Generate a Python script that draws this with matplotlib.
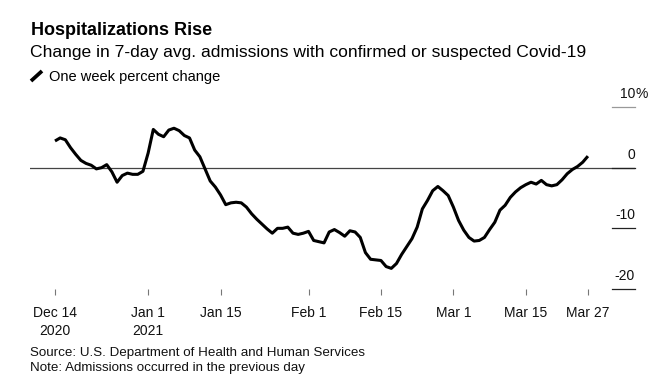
import numpy as np
import pandas as pd
import matplotlib
matplotlib.use("Agg")
import matplotlib.pyplot as plt
from matplotlib.lines import Line2D

plt.rcParams['font.family'] = ['Liberation Sans', 'DejaVu Sans']

# --- data: one week percent change, Dec 14 2020 .. Mar 27 2021 (daily) ---
start_date = "2020-12-14"
pct_change = [
    4.4, 4.9, 4.6, 3.3, 2.2, 1.2, 0.7, 0.4, -0.2, 0.0,
    0.5, -0.7, -2.4, -1.3, -0.9, -1.1, -1.1, -0.6, 2.4, 6.3,
    5.5, 5.1, 6.2, 6.5, 6.1, 5.3, 4.9, 2.9, 1.8, -0.2,
    -2.2, -3.2, -4.5, -6.1, -5.8, -5.7, -5.8, -6.5, -7.6, -8.5,
    -9.3, -10.1, -10.8, -10.0, -10.0, -9.8, -10.8, -11.0, -10.8, -10.5,
    -12.0, -12.2, -12.4, -10.6, -10.2, -10.7, -11.3, -10.4, -10.6, -11.5,
    -14.0, -15.1, -15.2, -15.3, -16.3, -16.6, -15.8, -14.3, -13.0, -11.7,
    -9.8, -6.8, -5.4, -3.8, -3.1, -3.8, -4.6, -6.5, -8.7, -10.3,
    -11.5, -12.1, -12.0, -11.5, -10.2, -9.0, -7.0, -6.2, -4.9, -4.0,
    -3.3, -2.8, -2.4, -2.7, -2.1, -2.8, -3.0, -2.8, -2.0, -1.0,
    -0.3, 0.2, 0.9, 1.9,
]
dates = pd.date_range(start_date, periods=len(pct_change), freq="D")

tick_dates = ["2020-12-14", "2021-01-01", "2021-01-15", "2021-02-01",
              "2021-02-15", "2021-03-01", "2021-03-15", "2021-03-27"]
tick_labels = ["Dec 14\n2020", "Jan 1\n2021", "Jan 15", "Feb 1",
               "Feb 15", "Mar 1", "Mar 15", "Mar 27"]
y_ticks = [10, 0, -10, -20]
y_labels = ["10%", "0", "-10", "-20"]

W, H = 662, 383
fig = plt.figure(figsize=(W / 100, H / 100), dpi=100)
ax = fig.add_axes([30 / W, 1 - 289 / H, 605 / W, 182 / H])

ax.axhline(0, color="#444444", lw=0.9, zorder=1)
ax.plot(dates, pct_change, color="black", lw=2.2, solid_joinstyle="round",
        solid_capstyle="butt", zorder=3)

d0 = pd.Timestamp(start_date)
ax.set_xlim(d0 - pd.Timedelta(days=4.83), d0 + pd.Timedelta(days=112.1))
ax.set_ylim(-20, 10)

for s in ax.spines.values():
    s.set_visible(False)

ax.set_xticks([pd.Timestamp(d) for d in tick_dates])
ax.set_xticklabels(tick_labels, fontsize=10, linespacing=1.35)
ax.tick_params(axis="x", length=4, width=0.8, color="#777777", pad=8,
               labelcolor="#111111")
ax.set_yticks([])

# right-side value labels with short rules
for v, lab in zip(y_ticks, y_labels):
    ax.axhline(v, xmin=0.962, xmax=1.0, color="#999999" if v == 10 else "#222222",
               lw=0.9, zorder=2, clip_on=False)
    ax.text(1.0, v + 1.0, lab.replace("%", ""),
            transform=ax.get_yaxis_transform(), ha="right", va="bottom",
            fontsize=10, color="#111111")
    if lab.endswith("%"):
        ax.text(1.0, v + 1.0, "%", transform=ax.get_yaxis_transform(),
                ha="left", va="bottom", fontsize=10, color="#111111")

# titles
def px(x, y):
    return x / W, 1 - y / H

fig.text(*px(31, 35), "Hospitalizations Rise", fontsize=13.0, fontweight="bold",
         va="baseline", ha="left", color="black")
fig.text(*px(30, 56.5), "Change in 7-day avg. admissions with confirmed or suspected Covid-19",
         fontsize=12.6, va="baseline", ha="left", color="black")
fig.add_artist(Line2D([31 / W, 42 / W], [1 - 81 / H, 1 - 71 / H], color="black",
                      lw=2.7, solid_capstyle="butt"))
fig.text(*px(49, 81), "One week percent change", fontsize=10.5,
         va="baseline", ha="left", color="black")

fig.text(*px(30, 356), "Source: U.S. Department of Health and Human Services",
         fontsize=9.6, va="baseline", ha="left", color="#111111")
fig.text(*px(30, 370.5), "Note: Admissions occurred in the previous day",
         fontsize=9.6, va="baseline", ha="left", color="#111111")

fig.savefig("out.png", dpi=100, facecolor="white")
